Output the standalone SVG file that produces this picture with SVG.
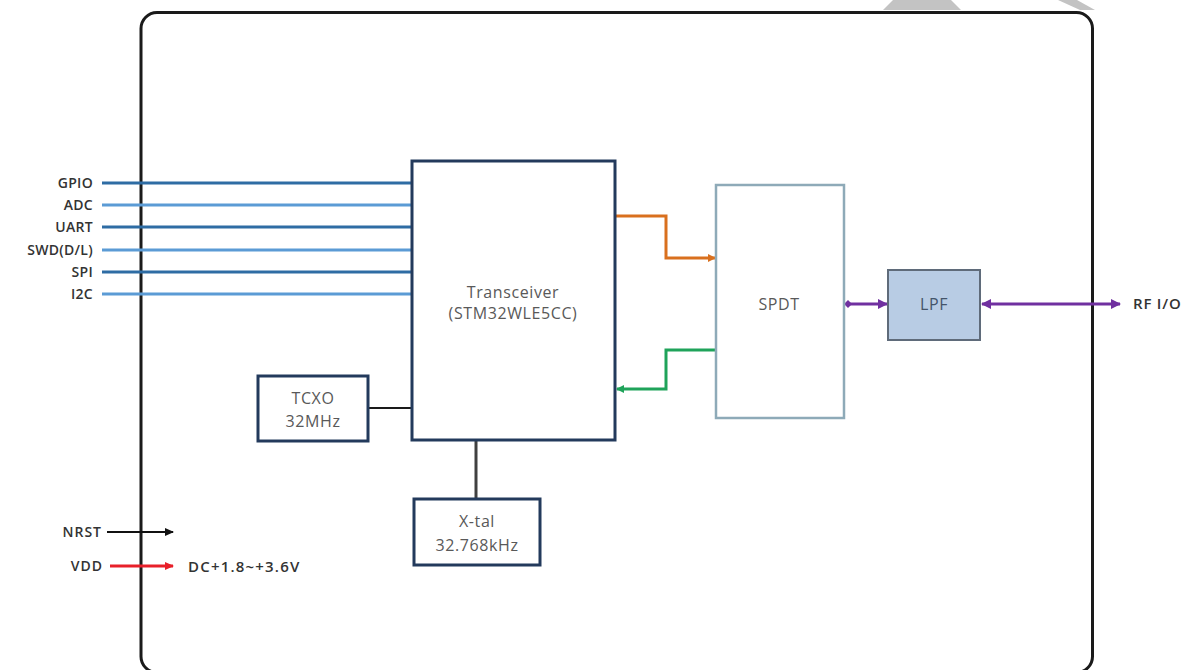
<svg xmlns="http://www.w3.org/2000/svg" width="1192" height="670" viewBox="0 0 1192 670">
<style>
.lbl{font-family:"Open Sans","Liberation Sans",sans-serif;font-size:14px;fill:#333;font-weight:600;letter-spacing:0.3px}
.in{font-family:"Open Sans","Liberation Sans",sans-serif;font-size:16px;fill:#595959;letter-spacing:0.6px}
.box{fill:#fff;stroke:#233a5c;stroke-width:3}
.bus1{stroke:#2e6ca4;stroke-width:3;fill:none}
.bus2{stroke:#5b9bd5;stroke-width:3;fill:none}
.blk{stroke:#1a1a1a;stroke-width:2;fill:none}
</style>
<defs>
<marker id="aO" markerWidth="8" markerHeight="8" refX="7" refY="4" orient="auto" markerUnits="userSpaceOnUse"><path d="M0,0L8,4L0,8z" fill="#d9701e"/></marker>
<marker id="aG" markerWidth="8" markerHeight="8" refX="7" refY="4" orient="auto" markerUnits="userSpaceOnUse"><path d="M0,0L8,4L0,8z" fill="#1fa35a"/></marker>
<marker id="aP" markerWidth="10" markerHeight="10" refX="9" refY="5" orient="auto-start-reverse" markerUnits="userSpaceOnUse"><path d="M0,0L10,5L0,10z" fill="#7030a0"/></marker>
<marker id="dP" markerWidth="8" markerHeight="8" refX="4" refY="4" orient="auto" markerUnits="userSpaceOnUse"><path d="M0,4L4,0L8,4L4,8z" fill="#7030a0"/></marker>
<marker id="aK" markerWidth="9" markerHeight="8" refX="8" refY="4" orient="auto" markerUnits="userSpaceOnUse"><path d="M0,0L9,4L0,8z" fill="#111"/></marker>
<marker id="aR" markerWidth="9" markerHeight="8" refX="8" refY="4" orient="auto" markerUnits="userSpaceOnUse"><path d="M0,0L9,4L0,8z" fill="#e8202a"/></marker>
</defs>
<rect width="1192" height="670" fill="#fff"/>
<g id="watermark" fill="#c3c3c3">
<polygon points="893,0 951,0 961,10 883,10"/>
<polygon points="1058,0 1077,0 1095,10 1080,10"/>
</g>
<rect id="frame" x="141" y="12.5" width="951.5" height="660" rx="16" fill="none" stroke="#1a1a1a" stroke-width="3"/>
<g id="connectors">
<line class="bus1" x1="102" y1="183" x2="412" y2="183"/>
<line class="bus2" x1="102" y1="205" x2="412" y2="205"/>
<line class="bus1" x1="102" y1="227" x2="412" y2="227"/>
<line class="bus2" x1="102" y1="250" x2="412" y2="250"/>
<line class="bus1" x1="102" y1="272" x2="412" y2="272"/>
<line class="bus2" x1="102" y1="294" x2="412" y2="294"/>
<polyline points="615,216 666,216 666,258 715,258" fill="none" stroke="#d9701e" stroke-width="3" marker-end="url(#aO)"/>
<polyline points="716,350 666,350 666,389 617,389" fill="none" stroke="#1fa35a" stroke-width="3" marker-end="url(#aG)"/>
<line x1="848" y1="304" x2="887" y2="304" stroke="#7030a0" stroke-width="3" marker-start="url(#dP)" marker-end="url(#aP)"/>
<line x1="982" y1="304" x2="1120" y2="304" stroke="#7030a0" stroke-width="3" marker-start="url(#aP)" marker-end="url(#aP)"/>
<line class="blk" x1="368" y1="408" x2="412" y2="408"/>
<line x1="476" y1="440" x2="476" y2="499" stroke="#404040" stroke-width="3"/>
<line x1="107" y1="532" x2="173" y2="532" stroke="#111" stroke-width="2" marker-end="url(#aK)"/>
<line x1="110" y1="566" x2="173" y2="566" stroke="#e8202a" stroke-width="3" marker-end="url(#aR)"/>
</g>
<g id="labels">
<text class="lbl" x="93" y="188" text-anchor="end">GPIO</text>
<text class="lbl" x="93" y="210" text-anchor="end">ADC</text>
<text class="lbl" x="93" y="232" text-anchor="end">UART</text>
<text class="lbl" x="93" y="255" text-anchor="end">SWD(D/L)</text>
<text class="lbl" x="93" y="277" text-anchor="end">SPI</text>
<text class="lbl" x="93" y="299" text-anchor="end">I2C</text>
<text class="lbl" x="102" y="537" text-anchor="end" style="letter-spacing:1px">NRST</text>
<text class="lbl" x="103" y="571" text-anchor="end" style="letter-spacing:1px">VDD</text>
<text class="lbl" x="188" y="572" style="font-size:15px;letter-spacing:1.2px">DC+1.8~+3.6V</text>
<text class="lbl" x="1133" y="309" style="font-size:15px;letter-spacing:0.8px">RF I/O</text>
</g>
<g id="transceiver">
<rect class="box" x="412" y="161" width="203" height="279"/>
<text class="in" x="513" y="298" text-anchor="middle">Transceiver</text>
<text class="in" x="513" y="319" text-anchor="middle">(STM32WLE5CC)</text>
</g>
<g id="spdt">
<rect x="716" y="185" width="128" height="233" fill="#fff" stroke="#8eaab8" stroke-width="2.5"/>
<text class="in" x="779" y="310" text-anchor="middle">SPDT</text>
</g>
<g id="lpf">
<rect x="888" y="270" width="92" height="70" fill="#b8cce4" stroke="#5f6b7a" stroke-width="2"/>
<text class="in" x="934" y="310" text-anchor="middle" style="fill:#44546a">LPF</text>
</g>
<g id="tcxo">
<rect class="box" x="258" y="376" width="110" height="65"/>
<text class="in" x="313" y="404" text-anchor="middle">TCXO</text>
<text class="in" x="313" y="427" text-anchor="middle">32MHz</text>
</g>
<g id="xtal">
<rect class="box" x="414" y="499" width="126" height="66"/>
<text class="in" x="477" y="527" text-anchor="middle">X-tal</text>
<text class="in" x="477" y="551" text-anchor="middle">32.768kHz</text>
</g>
</svg>
